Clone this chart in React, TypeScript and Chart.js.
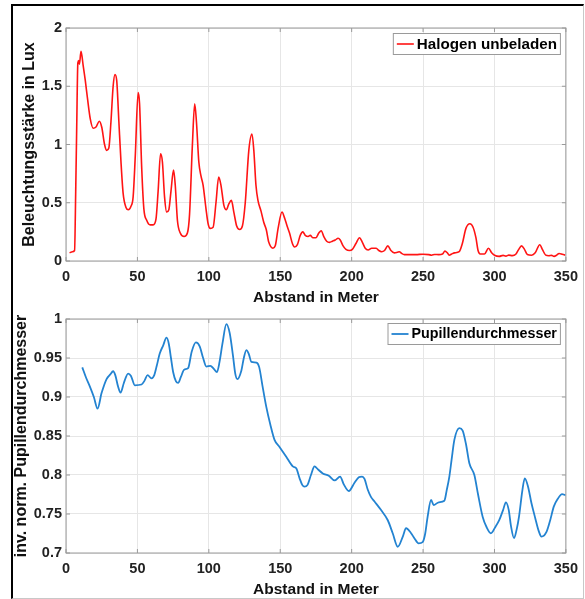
import React, { useEffect, useRef } from "react";
import { Chart, registerables } from "chart.js";

Chart.register(...registerables);

const FONT = '"Liberation Sans", Arial, Helvetica, sans-serif';

// ---------- data ----------
const xTicks = [0, 50, 100, 150, 200, 250, 300, 350];
const luxTicks = [0, 0.5, 1, 1.5, 2];
const pupilTicks = [0.7, 0.75, 0.8, 0.85, 0.9, 0.95, 1];

const halogenX = [
  2.5, 4.5, 6.0, 6.8, 7.5, 8.3, 9.0, 9.4, 10.5, 12, 13.5, 15, 17, 19, 21, 23.3, 25, 27, 28.5, 30,
  31.5, 33, 34.3, 35.5, 37, 38.5, 40, 42, 43.6, 45.5, 47, 48.5, 50.5, 51.5, 53, 54.5, 56.5, 59, 61, 63,
  64.5, 66.2, 67.5, 69, 70.5, 72, 73.5, 75.3, 76.5, 78, 80, 82.7, 85, 86.5, 88.5, 90.1, 91.3, 93, 94.5, 96,
  98, 99.5, 101, 103, 105, 106.9, 108.5, 110.5, 112.3, 114, 115.8, 117.5, 119.5, 121.6, 123.5, 125.5, 128, 130.2, 131.5, 133,
  134.4, 136.5, 138.5, 140.2, 142, 144.9, 146.5, 148.5, 151.2, 153, 154.8, 156.5, 158.5, 160, 162, 164, 165.8, 167.5, 169.5, 171,
  172.8, 175, 177, 178.7, 180.5, 182.5, 184.5, 186.5, 188.5, 190.5, 192, 194, 196, 198.5, 200.5, 203, 205.5, 207.5, 209.5, 211.5,
  214, 217.2, 219, 221, 223, 225.3, 227.5, 229.9, 232, 233.4, 235, 236.9, 240, 245, 250, 254, 256, 258, 261, 263.6,
  265.3, 267, 268.3, 270, 272, 275.3, 277.5, 280, 282.8, 285, 287, 288.5, 290, 293, 295.8, 298, 300, 303.3, 306, 308,
  310, 312.5, 314.9, 317, 318.9, 321, 323, 326, 328.5, 331.7, 333.5, 335.9, 338, 340, 341.7, 343.5, 345.2, 347.5, 349.5,
];
const halogenY = [
  0.07, 0.08, 0.09, 0.6, 1.15, 1.7, 1.72, 1.69, 1.8, 1.68, 1.55, 1.4, 1.22, 1.14, 1.15, 1.2, 1.15, 1.0, 0.95, 0.97,
  1.2, 1.5, 1.6, 1.55, 1.2, 0.85, 0.58, 0.46, 0.44, 0.47, 0.55, 0.9, 1.445, 1.35, 0.8, 0.45, 0.35, 0.31, 0.31, 0.36,
  0.6, 0.92, 0.85, 0.55, 0.42, 0.44, 0.6, 0.78, 0.65, 0.35, 0.24, 0.21, 0.24, 0.4, 1.0, 1.35, 1.2, 0.85, 0.73, 0.65,
  0.45, 0.32, 0.28, 0.29, 0.5, 0.72, 0.65, 0.48, 0.44, 0.49, 0.52, 0.42, 0.3, 0.27, 0.3, 0.5, 0.95, 1.09, 0.95, 0.65,
  0.52, 0.43, 0.33, 0.27, 0.16, 0.11, 0.13, 0.28, 0.42, 0.37, 0.3, 0.24, 0.15, 0.12, 0.14, 0.22, 0.25, 0.22, 0.21, 0.22,
  0.2, 0.2, 0.24, 0.26, 0.21, 0.17, 0.16, 0.17, 0.18, 0.195, 0.18, 0.13, 0.1, 0.09, 0.1, 0.15, 0.2, 0.16, 0.11, 0.095,
  0.11, 0.11, 0.09, 0.08, 0.09, 0.13, 0.09, 0.07, 0.075, 0.08, 0.065, 0.055, 0.055, 0.055, 0.058, 0.055, 0.05, 0.056, 0.055, 0.06,
  0.085, 0.07, 0.05, 0.06, 0.07, 0.08, 0.15, 0.28, 0.32, 0.29, 0.2, 0.09, 0.06, 0.06, 0.11, 0.07, 0.05, 0.04, 0.048, 0.042,
  0.05, 0.046, 0.058, 0.1, 0.13, 0.1, 0.055, 0.05, 0.07, 0.14, 0.1, 0.05, 0.045, 0.048, 0.04, 0.05, 0.065, 0.058, 0.05,
];

const pupilX = [
  11.4, 14, 16.8, 19.5, 22.1, 24.9, 28.4, 31, 33, 34.5, 36.5, 38.2, 40.5, 43.5, 45.5, 48.2, 52.9, 55, 57.1, 59.9,
  61.8, 63.4, 65.7, 68, 70.4, 72, 73.5, 75, 77, 78.5, 80.5, 82.7, 85.5, 88, 90.9, 93.6, 96, 98.3, 101.1, 103.5,
  105.7, 107.5, 109.5, 112.3, 114.6, 116.9, 118.5, 120, 122.8, 124.5, 126.3, 128, 129.8, 133.4, 135.3, 137.5, 140.2, 143, 146, 149.5,
  154.2, 158.8, 161.2, 163.5, 165.5, 167, 169, 171.5, 174, 176.5, 179.8, 184, 188, 191.9, 194.5, 198, 202, 205, 207.3, 209,
  211.3, 213.5, 216, 220.6, 225.3, 228.8, 232.3, 235.8, 238.1, 241.6, 243.9, 246.9, 249.7, 251.5, 253.2, 255.6, 257.4, 261, 264.9, 266.5,
  268.4, 270, 271.9, 275.4, 277.7, 280, 282.4, 285.9, 288.5, 291.7, 294.5, 297.5, 300.5, 303.3, 306, 308, 310, 311.5, 313.7, 315.5,
  317.2, 319.5, 321.2, 323.5, 325.9, 328.5, 331, 332.9, 336.4, 339, 341.5, 344.5, 347.3, 349.7,
];
const pupilY = [
  0.938, 0.925, 0.913, 0.9, 0.885, 0.905, 0.923, 0.929, 0.933, 0.928, 0.913, 0.9055, 0.918, 0.93, 0.927, 0.915, 0.916, 0.921, 0.928, 0.924,
  0.928, 0.939, 0.956, 0.966, 0.976, 0.968, 0.95, 0.932, 0.92, 0.918, 0.926, 0.935, 0.937, 0.958, 0.97, 0.965, 0.95, 0.939, 0.94, 0.936,
  0.932, 0.945, 0.968, 0.9935, 0.982, 0.953, 0.93, 0.923, 0.934, 0.95, 0.96, 0.955, 0.945, 0.944, 0.938, 0.915, 0.8876, 0.865, 0.845, 0.836,
  0.8235, 0.811, 0.8085, 0.796, 0.787, 0.785, 0.787, 0.8, 0.811, 0.807, 0.802, 0.799, 0.793, 0.798, 0.788, 0.7795, 0.79, 0.797, 0.798, 0.795,
  0.781, 0.772, 0.766, 0.755, 0.742, 0.725, 0.708, 0.721, 0.7317, 0.7254, 0.719, 0.7124, 0.714, 0.725, 0.7466, 0.768, 0.7615, 0.765, 0.767, 0.78,
  0.798, 0.82, 0.845, 0.86, 0.857, 0.84, 0.815, 0.8, 0.775, 0.7466, 0.733, 0.7253, 0.733, 0.742, 0.755, 0.765, 0.755, 0.735, 0.719, 0.73,
  0.747, 0.78, 0.7957, 0.785, 0.7637, 0.745, 0.728, 0.721, 0.727, 0.742, 0.7594, 0.77, 0.7756, 0.774,
];

// ---------- plugin: axes box, inward ticks, legend box ----------
const matlabFrame = {
  id: "matlabFrame",
  afterDraw(chart: any, _args: any, opts: any) {
    const { ctx, chartArea: a, scales } = chart;
    ctx.save();
    ctx.strokeStyle = "#9a9a9a";
    ctx.lineWidth = 1;
    ctx.strokeRect(a.left, a.top, a.width, a.height);
    const tl = 4;
    ctx.beginPath();
    scales.x.ticks.forEach((t: any) => {
      const px = scales.x.getPixelForValue(t.value);
      ctx.moveTo(px, a.bottom);
      ctx.lineTo(px, a.bottom - tl);
      ctx.moveTo(px, a.top);
      ctx.lineTo(px, a.top + tl);
    });
    scales.y.ticks.forEach((t: any) => {
      const py = scales.y.getPixelForValue(t.value);
      ctx.moveTo(a.left, py);
      ctx.lineTo(a.left + tl, py);
      ctx.moveTo(a.right, py);
      ctx.lineTo(a.right - tl, py);
    });
    ctx.stroke();

    // legend
    const ds = chart.data.datasets[0];
    const fs = opts.legendFont || 15;
    ctx.font = `bold ${fs}px ${FONT}`;
    const tw = ctx.measureText(ds.label).width;
    const h = 22;
    const w = 4 + 17 + 3 + tw + 4;
    const right = a.right - 5;
    const top = a.top + (opts.legendTop ?? 5);
    const left = right - w;
    ctx.fillStyle = "#ffffff";
    ctx.fillRect(left, top, w, h);
    ctx.strokeStyle = "#9a9a9a";
    ctx.lineWidth = 1;
    ctx.strokeRect(left + 0.5, top + 0.5, w - 1, h - 1);
    ctx.strokeStyle = ds.borderColor;
    ctx.lineWidth = ds.borderWidth;
    ctx.beginPath();
    ctx.moveTo(left + 4, top + h / 2);
    ctx.lineTo(left + 21, top + h / 2);
    ctx.stroke();
    ctx.fillStyle = "#000000";
    ctx.textAlign = "left";
    ctx.textBaseline = "middle";
    ctx.fillText(ds.label, left + 24, top + h / 2 + 0.5);
    ctx.restore();
  },
};

const fmt = (v: any) => String(+Number(v).toFixed(2));

function buildConfig(p: {
  xs: number[];
  ys: number[];
  label: string;
  color: string;
  lineWidth: number;
  yTicks: number[];
  yTitle: string;
  padTop: number;
  xAxisHeight: number;
  xTitlePadBottom: number;
  yTitlePadTop: number;
  legendFont: number;
  legendTop: number;
}): any {
  const pts = p.xs.map((x, i) => ({ x, y: p.ys[i] }));
  return {
    type: "line",
    data: {
      datasets: [
        {
          label: p.label,
          data: pts,
          borderColor: p.color,
          borderWidth: p.lineWidth,
          pointRadius: 0,
          fill: false,
          tension: 0.4,
          cubicInterpolationMode: "monotone",
        },
      ],
    },
    options: {
      animation: false,
      responsive: true,
      maintainAspectRatio: false,
      layout: { padding: { left: 0, right: 18, top: p.padTop, bottom: 0 } },
      plugins: {
        legend: { display: false },
        tooltip: { enabled: false },
        matlabFrame: { legendFont: p.legendFont, legendTop: p.legendTop },
      },
      scales: {
        x: {
          type: "linear",
          min: xTicks[0],
          max: xTicks[xTicks.length - 1],
          afterBuildTicks: (s: any) => {
            s.ticks = xTicks.map((v) => ({ value: v }));
          },
          afterFit: (s: any) => {
            s.height = p.xAxisHeight;
          },
          grid: { color: "#e6e6e6", drawTicks: false },
          border: { display: false },
          ticks: {
            padding: 7,
            color: "#222222",
            font: { family: FONT, size: 14.5, weight: "bold" },
            callback: fmt,
            maxRotation: 0,
          },
          title: {
            display: true,
            text: "Abstand in Meter",
            color: "#111111",
            font: { family: FONT, size: 15.5, weight: "bold", lineHeight: 1 },
            padding: { top: 0, bottom: p.xTitlePadBottom },
          },
        },
        y: {
          type: "linear",
          min: p.yTicks[0],
          max: p.yTicks[p.yTicks.length - 1],
          afterBuildTicks: (s: any) => {
            s.ticks = p.yTicks.map((v) => ({ value: v }));
          },
          afterFit: (s: any) => {
            s.width = 66;
          },
          grid: { color: "#e6e6e6", drawTicks: false },
          border: { display: false },
          ticks: {
            padding: 4,
            color: "#222222",
            font: { family: FONT, size: 14.5, weight: "bold" },
            callback: fmt,
          },
          title: {
            display: true,
            text: p.yTitle,
            color: "#111111",
            font: { family: FONT, size: 16, weight: "bold", lineHeight: 1 },
            padding: { top: p.yTitlePadTop, bottom: 0 },
          },
        },
      },
    },
    plugins: [matlabFrame],
  };
}

function ChartBox(props: { top: number; height: number; config: any }) {
  const ref = useRef<HTMLCanvasElement | null>(null);
  useEffect(() => {
    if (!ref.current) return;
    const chart = new Chart(ref.current, props.config);
    return () => chart.destroy();
  }, []);
  return (
    <div
      style={{
        position: "absolute",
        left: 0,
        top: props.top,
        width: 585,
        height: props.height,
      }}
    >
      <canvas ref={ref} />
    </div>
  );
}

export default function App() {
  const topCfg = buildConfig({
    xs: halogenX,
    ys: halogenY,
    label: "Halogen unbeladen",
    color: "#ff1414",
    lineWidth: 1.6,
    yTicks: luxTicks,
    yTitle: "Beleuchtungsstärke in Lux",
    padTop: 28,
    xAxisHeight: 49,
    xTitlePadBottom: 5,
    yTitlePadTop: 22,
    legendFont: 15.2,
    legendTop: 5,
  });
  const bottomCfg = buildConfig({
    xs: pupilX,
    ys: pupilY,
    label: "Pupillendurchmesser",
    color: "#2383d1",
    lineWidth: 1.8,
    yTicks: pupilTicks,
    yTitle: "inv. norm. Pupillendurchmesser",
    padTop: 14,
    xAxisHeight: 46,
    xTitlePadBottom: 2,
    yTitlePadTop: 13.5,
    legendFont: 14.3,
    legendTop: 4,
  });
  return (
    <div>
      <div
        style={{
          position: "absolute",
          left: 11,
          top: 4,
          width: 573,
          height: 595,
          boxSizing: "border-box",
          borderTop: "2px solid #000",
          borderLeft: "2px solid #000",
          borderRight: "1px solid #c8c8c8",
          borderBottom: "1px solid #c8c8c8",
          background: "#fff",
        }}
      />
      <ChartBox top={0} height={310} config={topCfg} />
      <ChartBox top={305} height={294} config={bottomCfg} />
    </div>
  );
}
